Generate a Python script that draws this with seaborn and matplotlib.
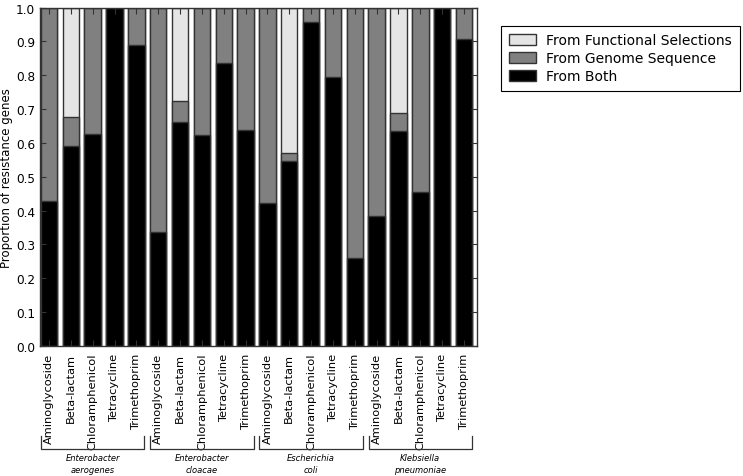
import matplotlib
matplotlib.use('Agg')
import matplotlib.pyplot as plt
import numpy as np
import pandas as pd
import seaborn as sns

# proportions, stacked from the bottom
species = ['Enterobacter\naerogenes', 'Enterobacter\ncloacae', 'Escherichia\ncoli', 'Klebsiella\npneumoniae']
drugs = ['Aminoglycoside', 'Beta-lactam', 'Chloramphenicol', 'Tetracycline', 'Trimethoprim']

from_both = [0.427, 0.591, 0.627, 1.000, 0.890,
             0.335, 0.662, 0.622, 0.835, 0.639,
             0.421, 0.545, 0.957, 0.795, 0.261,
             0.383, 0.636, 0.454, 1.000, 0.906]
from_genome = [0.573, 0.086, 0.373, 0.000, 0.110,
               0.665, 0.063, 0.378, 0.165, 0.361,
               0.579, 0.024, 0.043, 0.205, 0.739,
               0.617, 0.053, 0.546, 0.000, 0.094]
from_functional = [0.000, 0.323, 0.000, 0.000, 0.000,
                   0.000, 0.275, 0.000, 0.000, 0.000,
                   0.000, 0.431, 0.000, 0.000, 0.000,
                   0.000, 0.311, 0.000, 0.000, 0.000]

df = pd.DataFrame({
    'species': np.repeat(species, len(drugs)),
    'drug': drugs * len(species),
    'both': from_both,
    'genome': from_genome,
    'functional': from_functional,
})
df['key'] = df['species'] + '|' + df['drug']  # unique category per bar
df['genome_top'] = df['both'] + df['genome']
df['total'] = df['genome_top'] + df['functional']

plt.rcParams['font.family'] = ['DejaVu Sans']
fig = plt.figure(figsize=(7.43, 4.77), dpi=100)
ax = fig.add_axes([0.054, 0.273, 0.588, 0.709])

bar_kw = dict(x='key', order=list(df['key']), width=0.75, edgecolor='#333333',
              linewidth=1, saturation=1, ax=ax)
sns.barplot(data=df, y='total', color='#e5e5e5', label='From Functional Selections', **bar_kw)
sns.barplot(data=df, y='genome_top', color='#808080', label='From Genome Sequence', **bar_kw)
sns.barplot(data=df, y='both', color='black', label='From Both', **bar_kw)

ax.set_xlim(-0.405, 19.595)
ax.set_ylim(0, 1.0)
ax.set_yticks(np.arange(0, 1.01, 0.1))
ax.set_yticklabels([f'{v:.1f}' for v in np.arange(0, 1.01, 0.1)], fontsize=8.7)
ax.set_xticks(range(len(df)))
ax.set_xticklabels(df['drug'], rotation=90, fontsize=8.2)
ax.set_xlabel('')
ax.set_ylabel('Proportion of resistance genes', fontsize=8.5)
ax.yaxis.set_label_coords(-0.061, 0.5)
ax.tick_params(direction='in', top=True, right=True, length=4, width=0.8, color='#333333')
ax.tick_params(axis='x', pad=5)
for s in ax.spines.values():
    s.set_color('#333333')
    s.set_linewidth(1)

# species brackets under the tick labels
for g, name in enumerate(species):
    x0 = g * 5 - 0.37
    x1 = g * 5 + 4.37
    ax.plot([x0, x0, x1, x1], [-0.267, -0.306, -0.306, -0.267], color='#333333',
            lw=0.9, clip_on=False, transform=ax.get_xaxis_transform())
    ax.text((x0 + x1) / 2, -0.318, name, ha='center', va='top', fontsize=6,
            style='italic', linespacing=1.45, transform=ax.get_xaxis_transform())

leg = ax.legend(loc='upper left', bbox_to_anchor=(1.055, 0.947), borderaxespad=0,
                fontsize=10, fancybox=False, framealpha=1, edgecolor='black',
                handlelength=2.0, handleheight=0.8, labelspacing=0.3, borderpad=0.55,
                handletextpad=0.7)
leg.get_frame().set_linewidth(0.8)

fig.savefig('out.png', dpi=100)
